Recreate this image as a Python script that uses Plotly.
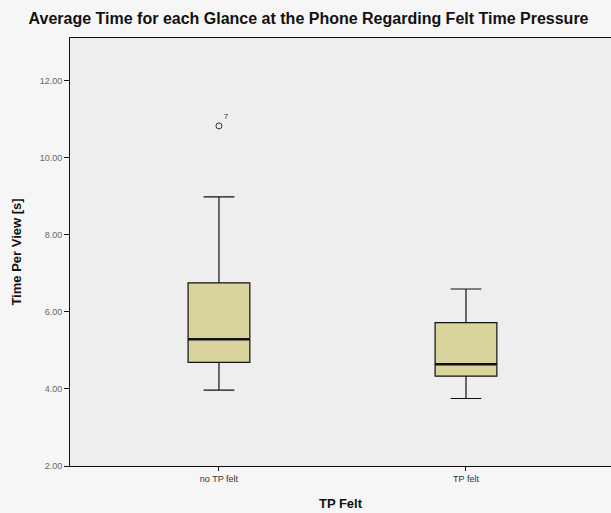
import plotly.graph_objects as go

categories = ["no TP felt", "TP felt"]
positions = [0, 1]
q1 = [4.69, 4.33]
median = [5.29, 4.64]
q3 = [6.75, 5.72]
lower_fence = [3.97, 3.75]
upper_fence = [8.98, 6.59]
outlier_x = [0]
outlier_y = [10.82]
outlier_label = ["7"]
box_width = 0.25

fig = go.Figure()
fig.add_trace(go.Box(
    x=positions, q1=q1, median=median, q3=q3,
    lowerfence=lower_fence, upperfence=upper_fence,
    width=box_width, whiskerwidth=0.5,
    fillcolor="#d9d49c", line=dict(color="#111111", width=1.2),
    boxpoints=False, showlegend=False, hoverinfo="skip",
))
for p, m in zip(positions, median):
    fig.add_trace(go.Scatter(
        x=[p - box_width / 2, p + box_width / 2], y=[m, m], mode="lines",
        line=dict(color="#111111", width=2.5), showlegend=False, hoverinfo="skip",
    ))
fig.add_trace(go.Scatter(
    x=outlier_x, y=outlier_y, mode="markers+text", text=outlier_label,
    textposition="top right", textfont=dict(size=8, color="#333333", family="Liberation Sans"),
    marker=dict(symbol="circle-open", size=6, color="#333333", line=dict(width=1)),
    showlegend=False, hoverinfo="skip",
))

fig.update_layout(
    width=611, height=513,
    margin=dict(l=70, r=0, t=38, b=47),
    paper_bgcolor="#f6f6f6", plot_bgcolor="#eeeeee",
    title=dict(text="<b>Average Time for each Glance at the Phone Regarding Felt Time Pressure</b>",
               x=0.505, xanchor="center", y=0.965, yanchor="middle",
               font=dict(family="Liberation Sans", size=16, color="#111111")),
    xaxis=dict(range=[-0.603, 1.587], tickvals=positions, ticktext=categories,
               showgrid=False, zeroline=False, showline=True, linecolor="#111111", linewidth=1,
               mirror=True, ticks="outside", ticklen=4, tickcolor="#111111",
               tickfont=dict(family="Liberation Sans", size=9, color="#333333"),
               title=dict(text="<b>TP Felt</b>", standoff=16,
                          font=dict(family="Liberation Sans", size=13, color="#111111"))),
    yaxis=dict(range=[2, 13.1], tickvals=[2, 4, 6, 8, 10, 12],
               ticktext=["2.00", "4.00", "6.00", "8.00", "10.00", "12.00"],
               showgrid=False, zeroline=False, showline=True, linecolor="#111111", linewidth=1,
               ticks="outside", ticklen=5, tickcolor="#111111",
               tickfont=dict(family="Liberation Sans", size=9, color="#666666"),
               title=dict(text="<b>Time Per View [s]</b>", standoff=15,
                          font=dict(family="Liberation Sans", size=13, color="#111111"))),
)
fig.write_html("out.html")
